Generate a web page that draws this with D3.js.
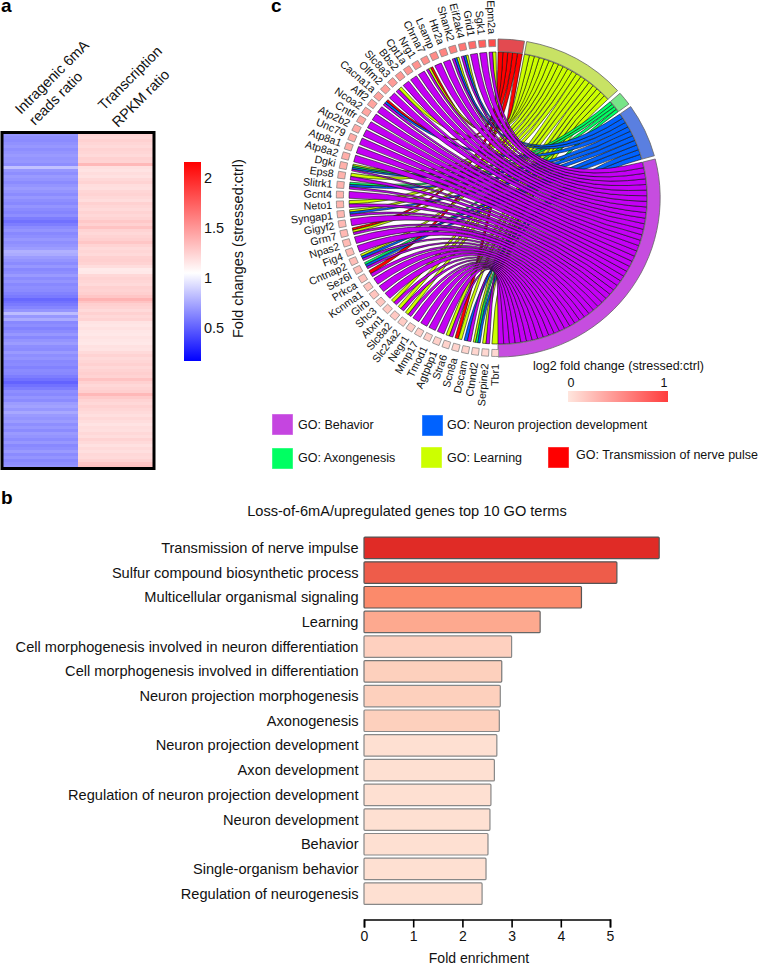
<!DOCTYPE html>
<html><head><meta charset="utf-8">
<script src="https://cdn.jsdelivr.net/npm/d3@7"></script>
<style>html,body{margin:0;padding:0;background:#fff}svg{display:block}text{font-family:"Liberation Sans",Arial,sans-serif;fill:#111}</style>
</head><body><svg id="c" width="758" height="966"></svg>
<script>
// ---------- panel a: heat map ----------
const readsRatio = [.68,.66,.65,.67,.69,.66,.68,.70,.68,.69,.66,.84,.69,.66,.70,.68,.65,.68,.71,.68,.65,.69,.66,.64,.68,.65,.63,.66,.60,.56,.60,.65,.68,.64,.66,.69,.66,.68,.71,.78,.76,.71,.68,.65,.69,.64,.66,.70,.65,.68,.64,.66,.65,.62,.59,.53,.56,.59,.63,.68,.82,.69,.76,.64,.66,.62,.65,.69,.64,.68,.71,.66,.65,.70,.66,.68,.64,.65,.62,.65,.64,.60,.56,.51,.56,.60,.66,.64,.68,.65,.71,.73,.69,.75,.70,.68,.71,.66,.69,.65,.70,.68,.65,.69,.64,.66,.70,.65,.68,.64,.66,.68];
const rpkmRatio = [1.24,1.22,1.25,1.23,1.21,1.24,1.23,1.21,1.25,1.24,1.36,1.19,1.17,1.20,1.18,1.22,1.24,1.20,1.19,1.23,1.24,1.22,1.20,1.25,1.23,1.21,1.24,1.22,1.24,1.29,1.25,1.31,1.24,1.22,1.24,1.26,1.30,1.24,1.21,1.23,1.21,1.25,1.26,1.24,1.20,1.14,1.15,1.22,1.24,1.23,1.21,1.25,1.24,1.26,1.30,1.38,1.31,1.26,1.24,1.21,1.25,1.22,1.24,1.17,1.16,1.18,1.16,1.15,1.17,1.16,1.15,1.18,1.17,1.21,1.24,1.21,1.23,1.25,1.22,1.24,1.26,1.24,1.31,1.25,1.22,1.24,1.26,1.36,1.28,1.24,1.22,1.25,1.23,1.21,1.19,1.22,1.20,1.17,1.20,1.19,1.22,1.20,1.24,1.21,1.18,1.21,1.19,1.22,1.21,1.24,1.30,1.32];
const heatColumns = ["readsRatio","rpkmRatio"];
const heatLabels = [["Intragenic 6mA","reads ratio"],["Transcription","RPKM ratio"]];
const colorTicks = [0.5,1,1.5,2];
// ---------- panel b: bars ----------
const goTerms = ["Transmission of nerve impulse","Sulfur compound biosynthetic process","Multicellular organismal signaling","Learning","Cell morphogenesis involved in neuron differentiation","Cell morphogenesis involved in differentiation","Neuron projection morphogenesis","Axonogenesis","Neuron projection development","Axon development","Regulation of neuron projection development","Neuron development","Behavior","Single-organism behavior","Regulation of neurogenesis"];
const foldEnrichment = [6.0,5.14,4.42,3.58,3.0,2.8,2.77,2.75,2.7,2.65,2.58,2.56,2.52,2.48,2.4];
const barColors = ["#e02b26","#ee5c4a","#fb8a6b","#fda98f","#fed0bf","#fdd0bd","#fdd0bd","#fdd0bd","#fee0d2","#fee0d2","#fee0d2","#fee0d2","#fee0d2","#fee0d2","#fee0d2"];
const barStrokes = ["#555","#555","#555","#666","#888","#777","#888","#888","#888","#888","#888","#888","#888","#888","#888"];
// ---------- panel c: chord ----------
const genes = ["Tbr1","Serpine2","Ctnnd2","Dscam","Scn8a","Stra6","Agtpbp1","Tmod1","Mmp17","Negr1","Slc24a2","Slc8a2","Atxn1","Shc3","Glrb","Kcnma1","Prkca","Sez6l","Cntnap2","Fig4","Npas2","Grm7","Gigyf2","Syngap1","Neto1","Gcnt4","Slitrk1","Eps8","Dgki","Atp8a2","Atp8a1","Unc79","Atp2b2","Cntfr","Ncoa2","Aff2","Cacna1a","Olfm2","Slc8a3","Bbs2","Cpt1a","Nrg1","Chrna7","Lsamp","Htr2a","Shank2","Eif2ak4","Grid1","Sgk1","Epm2a"];
const geneFC = [.08,.09,.10,.11,.12,.12,.13,.14,.15,.15,.16,.17,.18,.19,.20,.21,.22,.23,.24,.25,.26,.27,.27,.28,.29,.30,.30,.31,.32,.33,.34,.35,.36,.37,.38,.39,.40,.42,.44,.46,.48,.50,.52,.54,.58,.62,.66,.72,.80,.92];
const geneTerms = ["L","BL","NAL","BN","LT","BL","B","B","B","B","BL","BL","BL","B","B","B","BT","BNA","BNL","B","B","BLT","B","BNL","BL","B","BNA","BL","BNAL","B","B","B","B","B","B","B","BNT","B","BL","B","B","B","BLT","B","B","BNL","BNL","B","B","BL"];
const termCodes = ["B","N","A","L","T"];                // order inside a gene
const termDraw = ["T","L","A","N","B"];                 // painting order
const termNames = {B:"GO: Behavior",N:"GO: Neuron projection development",A:"GO: Axongenesis",L:"GO: Learning",T:"GO: Transmission of nerve pulse"};
const ribbonColors = {B:"#c400f5",N:"#0062ff",A:"#00ff62",L:"#ccff00",T:"#ff0000"};
const legendColors = {B:"#c545e0",N:"#0062ff",A:"#00ff62",L:"#ccff00",T:"#ff0000"};
const sectorColors = {B:"#c64ddf",N:"#5a7fe0",A:"#78e488",L:"#c8e264",T:"#e34a50"};
const sectorDeg = {T:[0,9.4],L:[10.2,47.5],A:[48.8,53.8],N:[54.9,74.6],B:[75.8,180]};
const fcLegendTicks = [0,1];

const rad = d => d*Math.PI/180;
const svg = d3.select("#c");

// letters
[["a",1,12],["b",1,504],["c",271,12]].forEach(([t,x,y])=>svg.append("text").attr("x",x).attr("y",y).attr("font-size",19).attr("font-weight","bold").style("fill","#000").text(t));

// ---- heat map
const heatColor = d3.scaleLinear().domain([.17,1.05,2.16]).range(["#0000ff","#ffffff","#ff0000"]).clamp(true);
const heatX = d3.scaleBand().domain(heatColumns).range([3,153]);
const heatY = d3.scaleBand().domain(d3.range(readsRatio.length)).range([133,468]);
const heat = svg.append("g").attr("shape-rendering","crispEdges");
[readsRatio,rpkmRatio].forEach((vals,c)=>{
  heat.selectAll(null).data(vals).join("rect")
    .attr("x",heatX(heatColumns[c])).attr("width",heatX.bandwidth())
    .attr("y",(d,i)=>heatY(i)).attr("height",heatY.bandwidth()+.5)
    .attr("fill",d=>heatColor(d));
});
svg.append("rect").attr("x",2).attr("y",132.5).attr("width",152).attr("height",336).attr("fill","none").attr("stroke","#000").attr("stroke-width",3);
const heatLabelPos=[[[21,115],[35,126]],[[104,111],[118,128]]];
heatLabels.forEach((ls,c)=>ls.forEach((t,l)=>{
  const [x,y]=heatLabelPos[c][l];
  svg.append("text").attr("transform",`translate(${x},${y}) rotate(-45)`).attr("font-size",14.5).text(t);
}));
// colour bar
const cbY = d3.scaleLinear().domain([1,2]).range([278,178]);
const defs = svg.append("defs");
const grad = defs.append("linearGradient").attr("id","cb").attr("x1",0).attr("x2",0).attr("y1",1).attr("y2",0);
heatColor.domain().forEach((v,i)=>grad.append("stop").attr("offset",(v-.17)/(2.16-.17)).attr("stop-color",heatColor(v)));
svg.append("rect").attr("x",184).attr("width",17).attr("y",cbY(2.16)).attr("height",cbY(.17)-cbY(2.16)).attr("fill","url(#cb)");
svg.selectAll(".cbt").data(colorTicks).join("text").attr("class","cbt").attr("x",204).attr("y",d=>cbY(d)+5).attr("font-size",14.5).text(d=>d);
svg.append("text").attr("transform","translate(243,338) rotate(-90)").attr("font-size",14.5).text("Fold changes (stressed:ctrl)");

// ---- chord
const cx=498, cy=198, RO=159, RI=146;
const chord = svg.append("g").attr("transform",`translate(${cx},${cy}) scale(1.02,1)`);
const firstGene=181, geneStep=3.61, geneBand=2.7;
const geneAngle = i => firstGene+i*geneStep;
const termCounts = {};
termCodes.forEach(t=>termCounts[t]=geneTerms.filter(s=>s.includes(t)).length);
const seen = {B:0,N:0,A:0,L:0,T:0};
const links=[];
genes.forEach((g,i)=>{
  const ts=termCodes.filter(t=>geneTerms[i].includes(t));
  ts.forEach((t,k)=>{
    const a0=geneAngle(i)-geneBand/2+k*geneBand/ts.length;
    const a1=a0+geneBand/ts.length;
    const [s0,s1]=sectorDeg[t], slot=(s1-s0)/termCounts[t];
    const n=seen[t]++;
    links.push({t,source:{startAngle:rad(a0),endAngle:rad(a1),radius:RI},
      target:{startAngle:rad(s1-(n+1)*slot),endAngle:rad(s1-n*slot),radius:RI}});
  });
});
const ribbon=d3.ribbon();
termDraw.forEach(t=>{
  chord.selectAll(null).data(links.filter(l=>l.t===t)).join("path")
    .attr("d",ribbon).attr("fill",ribbonColors[t]).attr("stroke","#111").attr("stroke-width",.6);
});
const arc=d3.arc();
chord.selectAll(null).data(termCodes).join("path")
  .attr("d",t=>arc({innerRadius:RI+.5,outerRadius:RO,startAngle:rad(sectorDeg[t][0]),endAngle:rad(sectorDeg[t][1])}))
  .attr("fill",t=>sectorColors[t]).attr("stroke","#666").attr("stroke-width",.8);
const fcColor=d3.scaleLinear().domain([0,1]).range(["#ffe6de","#ff3d3d"]);
chord.selectAll(null).data(genes).join("path")
  .attr("d",(g,i)=>arc({innerRadius:151.5,outerRadius:158.5,startAngle:rad(geneAngle(i)-geneBand/2+.1),endAngle:rad(geneAngle(i)+geneBand/2-.1)}))
  .attr("fill",(g,i)=>fcColor(geneFC[i])).attr("stroke","#888").attr("stroke-width",.8);
const glab=svg.append("g").attr("transform",`translate(${cx},${cy})`);
glab.selectAll(null).data(genes).join("text")
  .attr("transform",(g,i)=>{const a=geneAngle(i);return `rotate(${a-90}) translate(${a>300?164:166},3.8) rotate(180) translate(0,7.6)`;})
  .attr("text-anchor","end").attr("font-size",10.7).text(g=>g);

// chord legends
const leg=[["B",272,414,298,429],["N",422,415,447,429],["A",272,448,298,462],["L",421,447,447,462],["T",548,447,576,459]];
leg.forEach(([t,x,y,tx,ty])=>{
  svg.append("rect").attr("x",x).attr("y",y).attr("width",21).attr("height",21).attr("fill",legendColors[t]).attr("stroke","#fff").attr("stroke-opacity",.4);
  svg.append("text").attr("x",tx).attr("y",ty).attr("font-size",12.5).text(termNames[t]);
});
svg.append("text").attr("x",533).attr("y",370).attr("font-size",12.5).text("log2 fold change (stressed:ctrl)");
const fcX=d3.scaleLinear().domain([0,1]).range([568,668]);
const g2=defs.append("linearGradient").attr("id","fc");
g2.append("stop").attr("offset",0).attr("stop-color",fcColor(0));
g2.append("stop").attr("offset",1).attr("stop-color",fcColor(1));
svg.append("rect").attr("x",fcX(0)).attr("width",fcX(1)-fcX(0)).attr("y",391).attr("height",11).attr("fill","url(#fc)");
svg.selectAll(".fct").data(fcLegendTicks).join("text").attr("class","fct").attr("x",d=>fcX(d)+(d?-4:3)).attr("y",387).attr("text-anchor","middle").attr("font-size",12.5).text(d=>d);

// ---- bars
svg.append("text").attr("x",407).attr("y",516).attr("text-anchor","middle").attr("font-size",14.6).text("Loss-of-6mA/upregulated genes top 10 GO terms");
const x=d3.scaleLinear().domain([0,5]).range([364,610]);
const y=d3.scaleBand().domain(goTerms).range([535.5,906]).paddingInner(.13).paddingOuter(.065);
svg.selectAll(".bar").data(goTerms).join("rect").attr("class","bar")
  .attr("x",x(0)).attr("y",d=>y(d)).attr("height",y.bandwidth())
  .attr("width",(d,i)=>x(foldEnrichment[i])-x(0)).attr("rx",1)
  .attr("fill",(d,i)=>barColors[i]).attr("stroke",(d,i)=>barStrokes[i]).attr("stroke-width",1.2);
svg.selectAll(".lab").data(goTerms).join("text").attr("class","lab")
  .attr("x",358.5).attr("y",d=>y(d)+y.bandwidth()/2+5).attr("text-anchor","end").attr("font-size",14.6).text(d=>d);
const axis=svg.append("g").attr("transform","translate(0,919.5)").call(d3.axisBottom(x).tickValues([0,1,2,3,4,5]).tickFormat(d3.format("d")).tickSizeInner(8).tickSizeOuter(8).tickPadding(4));
axis.select(".domain").attr("stroke","#000").attr("stroke-width",1.6);
axis.selectAll(".tick line").attr("stroke","#000").attr("stroke-width",1.6);
axis.selectAll("text").attr("font-size",14).attr("font-family",null).style("font-family",'"Liberation Sans",Arial,sans-serif').style("fill","#111");
svg.append("text").attr("x",479).attr("y",962.5).attr("text-anchor","middle").attr("font-size",14).text("Fold enrichment");
</script></body></html>
